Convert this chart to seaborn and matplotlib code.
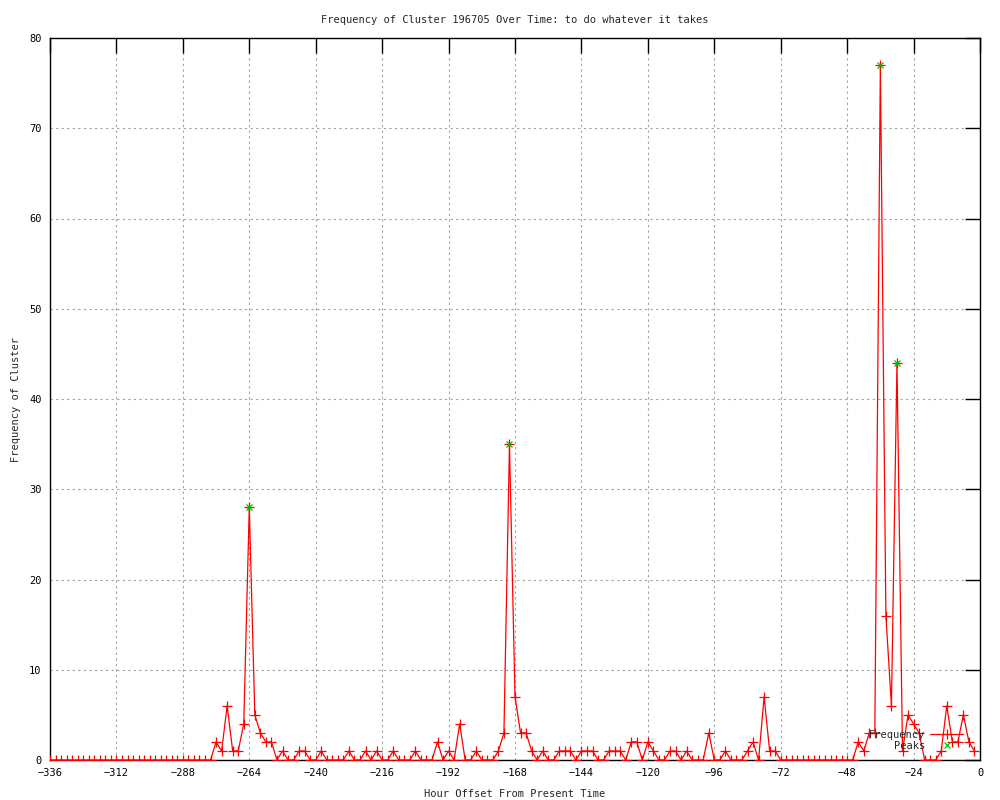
import matplotlib
matplotlib.use("Agg")
import matplotlib.pyplot as plt
import seaborn as sns
import pandas as pd

# hour offsets, one sample every 2 hours
hours = list(range(-336, 0, 2))

# frequency per 2h bin, grouped by 24h blocks
frequency = [
    0, 0, 0, 0, 0, 0, 0, 0, 0, 0, 0, 0,        # -336 .. -314
    0, 0, 0, 0, 0, 0, 0, 0, 0, 0, 0, 0,        # -312 .. -290
    0, 0, 0, 0, 0, 0, 2, 1, 6, 1, 1, 4,        # -288 .. -266
    28, 5, 3, 2, 2, 0, 1, 0, 0, 1, 1, 0,       # -264 .. -242
    0, 1, 0, 0, 0, 0, 1, 0, 0, 1, 0, 1,        # -240 .. -218
    0, 0, 1, 0, 0, 0, 1, 0, 0, 0, 2, 0,        # -216 .. -194
    1, 0, 4, 0, 0, 1, 0, 0, 0, 1, 3, 35,       # -192 .. -170
    7, 3, 3, 1, 0, 1, 0, 0, 1, 1, 1, 0,        # -168 .. -146
    1, 1, 1, 0, 0, 1, 1, 1, 0, 2, 2, 0,        # -144 .. -122
    2, 1, 0, 0, 1, 1, 0, 1, 0, 0, 0, 3,        # -120 .. -98
    0, 0, 1, 0, 0, 0, 1, 2, 0, 7, 1, 1,        # -96 .. -74
    0, 0, 0, 0, 0, 0, 0, 0, 0, 0, 0, 0,        # -72 .. -50
    0, 0, 2, 1, 3, 3, 77, 16, 6, 44, 1, 5,     # -48 .. -26
    4, 3, 0, 0, 0, 1, 6, 2, 2, 5, 2, 1,        # -24 .. -2
]

peak_hours = [-264, -170, -36, -30]
peak_values = [28, 35, 77, 44]

x_ticks = list(range(-336, 1, 24))
y_ticks = list(range(0, 81, 10))

df = pd.DataFrame({'hour': hours, 'freq': frequency})
peaks_df = pd.DataFrame({'hour': peak_hours, 'freq': peak_values})

sns.set_style('white')
plt.rcParams['font.family'] = ['DejaVu Sans Mono']
fs = 7.5

fig = plt.figure(figsize=(10, 8), dpi=100)
ax = fig.add_axes([0.05, 0.05, 0.93, 0.9025])

sns.lineplot(data=df, x='hour', y='freq', ax=ax, color='#ff0000',
             linewidth=0.9, marker='+', markersize=6.5, markeredgewidth=0.9,
             markeredgecolor='#ff0000', label='Frequency', zorder=3)
ax.plot(peaks_df['hour'], peaks_df['freq'], linestyle='none', marker='x',
        markersize=5, markeredgewidth=0.9, color='#00c000',
        label='Peaks', zorder=4)

ax.set_xlim(-336, 0)
ax.set_ylim(0, 80)
ax.set_xticks(x_ticks)
ax.set_yticks(y_ticks)
ax.grid(True, color='#a0a0a0', linestyle=(0, (2, 3)), linewidth=0.8)
ax.tick_params(direction='in', length=11, width=1, top=True, right=True,
               labelsize=fs, colors='black', pad=6)
for s in ax.spines.values():
    s.set_color('black')
    s.set_linewidth(1)
    s.set_visible(True)

ax.set_title('Frequency of Cluster 196705 Over Time: to do whatever it takes',
             fontsize=fs, pad=11)
ax.set_xlabel('Hour Offset From Present Time', fontsize=fs, labelpad=8)
ax.set_ylabel('Frequency of Cluster', fontsize=fs, labelpad=6)

leg = ax.legend(loc='lower right', bbox_to_anchor=(0.99, 0.003), frameon=False,
                markerfirst=False, fontsize=fs, handlelength=3.2,
                handletextpad=0.5, labelspacing=0.1, borderaxespad=0.3)

fig.savefig('out.png', dpi=100)
